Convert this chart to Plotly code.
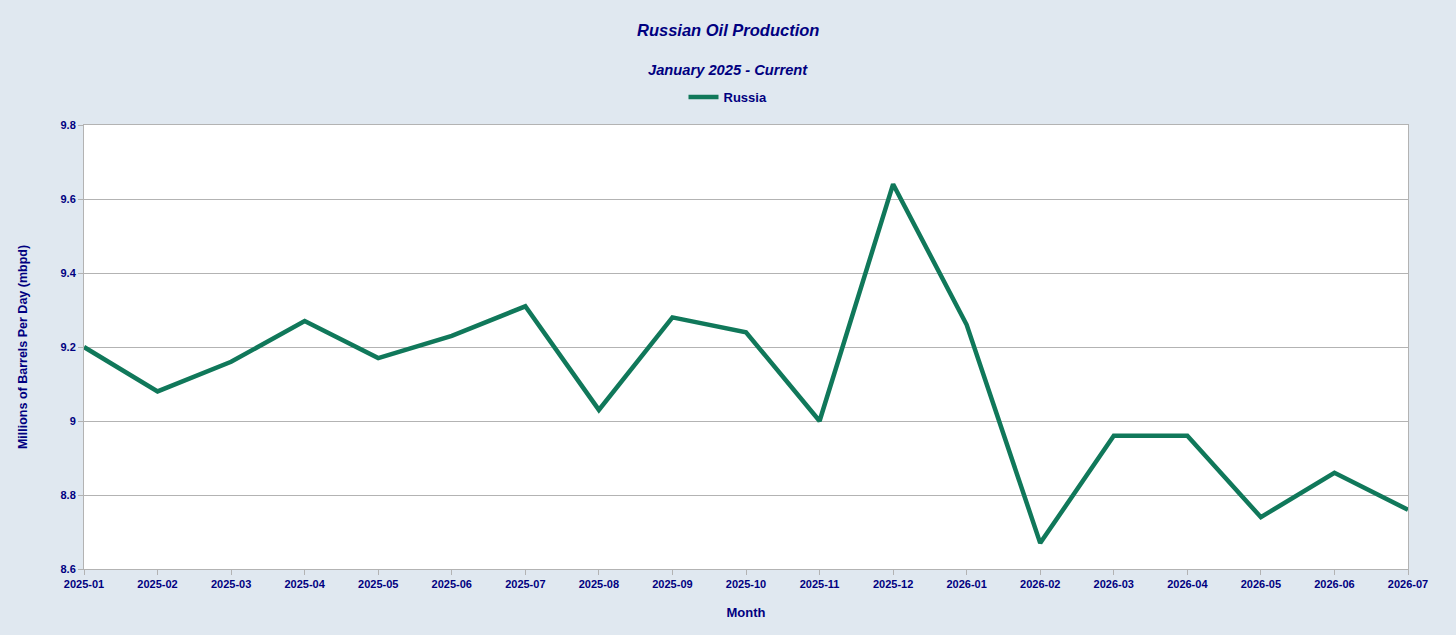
import plotly.graph_objects as go

# Monthly Russian oil production, millions of barrels per day
months = [
    "2025-01", "2025-02", "2025-03", "2025-04", "2025-05", "2025-06", "2025-07",
    "2025-08", "2025-09", "2025-10", "2025-11", "2025-12", "2026-01", "2026-02",
    "2026-03", "2026-04", "2026-05", "2026-06", "2026-07",
]
russia = [
    9.20, 9.08, 9.16, 9.27, 9.17, 9.23, 9.31, 9.03, 9.28, 9.24,
    9.00, 9.64, 9.26, 8.67, 8.96, 8.96, 8.74, 8.86, 8.76,
]
y_ticks = [8.6, 8.8, 9.0, 9.2, 9.4, 9.6, 9.8]

navy = "#000080"
font = "Liberation Sans, Arial, sans-serif"

# the reference centres its headings on the whole image, not the plot area
centre_x = (728 - 84) / 1324

fig = go.Figure(
    go.Scatter(
        x=months,
        y=russia,
        mode="lines",
        name="Russia",
        line=dict(color="#10785a", width=4.5),
    )
)

fig.update_layout(
    width=1456,
    height=635,
    paper_bgcolor="#e0e8f0",
    plot_bgcolor="white",
    margin=dict(l=84, r=48, t=125, b=66, autoexpand=False),
    font=dict(family=font, color=navy),
    showlegend=True,
    legend=dict(
        orientation="h",
        x=centre_x,
        xanchor="center",
        y=1.063,
        yanchor="middle",
        bgcolor="rgba(0,0,0,0)",
        font=dict(size=13, color=navy, family=font, weight="bold"),
        itemwidth=30,
    ),
    annotations=[
        dict(
            text="<b><i>Russian Oil Production</i></b>",
            xref="paper", yref="paper", x=centre_x, y=1 + 95 / 444,
            xanchor="center", yanchor="middle", showarrow=False,
            font=dict(size=16.5, color=navy, family=font),
        ),
        dict(
            text="<b><i>January 2025 - Current</i></b>",
            xref="paper", yref="paper", x=centre_x, y=1 + 55 / 444,
            xanchor="center", yanchor="middle", showarrow=False,
            font=dict(size=14.7, color=navy, family=font),
        ),
    ],
)

fig.update_xaxes(
    type="category",
    range=[0, len(months) - 1],
    showgrid=False,
    showline=True,
    linecolor="#b3b3b3",
    mirror=True,
    ticks="outside",
    ticklen=5,
    tickcolor="#b3b3b3",
    tickangle=0,
    tickfont=dict(size=11, color=navy, family=font, weight="bold"),
    title=dict(
        text="<b>Month</b>",
        font=dict(size=13, color=navy, family=font),
        standoff=18,
    ),
)

fig.update_yaxes(
    range=[8.6, 9.8],
    tickvals=y_ticks,
    ticktext=[f"{v:g}" for v in y_ticks],
    showgrid=True,
    gridcolor="#b3b3b3",
    gridwidth=1,
    zeroline=False,
    showline=True,
    linecolor="#b3b3b3",
    mirror=True,
    ticks="outside",
    ticklen=5,
    tickcolor="#b3b3b3",
    tickfont=dict(size=11, color=navy, family=font, weight="bold"),
    title=dict(
        text="<b>Millions of Barrels Per Day (mbpd)</b>",
        font=dict(size=12.5, color=navy, family=font),
        standoff=30,
    ),
)

# drop the default page margin so the chart sits flush in the window
fig.write_html(
    "out.html",
    config={"displayModeBar": False},
    post_script="document.body.style.margin='0';",
)
